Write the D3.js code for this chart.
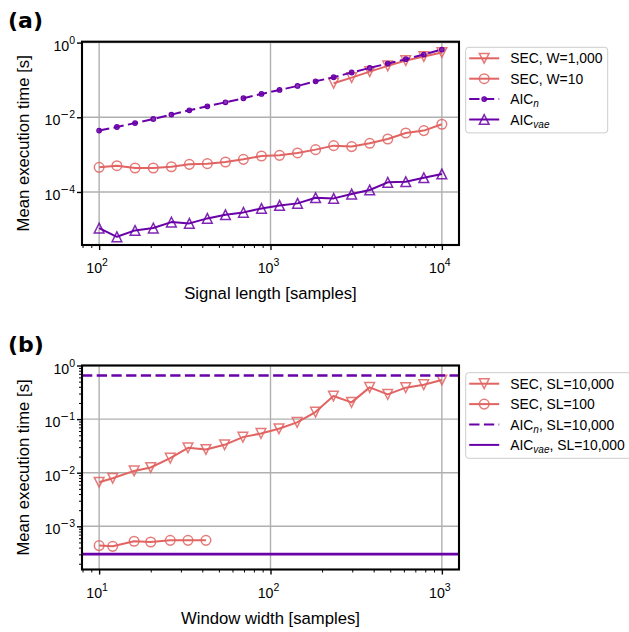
<!DOCTYPE html>
<html>
<head>
<meta charset="utf-8">
<script src="https://cdn.jsdelivr.net/npm/d3@7"></script>
<style>
  html, body { margin: 0; padding: 0; background: #fff; }
  svg { display: block; }
  text { font-family: "Liberation Sans", Arial, sans-serif; fill: #000; }
</style>
</head>
<body>
<svg id="chart" width="629" height="632"></svg>
<script>
// ---- Panel (a): execution time vs. signal length ----
const signalLengths = [100, 127, 162, 207, 264, 336, 428, 546, 695, 886, 1129, 1438, 1833, 2336, 2976, 3793, 4833, 6158, 7848, 10000];
const secW1000Lengths = [2336, 2976, 3793, 4833, 6158, 7848, 10000];
const secW1000 = [0.0817, 0.1156, 0.1675, 0.2377, 0.330, 0.423, 0.542];
const secW10 = [4.57e-4, 5.06e-4, 4.38e-4, 4.38e-4, 4.75e-4, 5.49e-4, 5.73e-4, 6.35e-4, 7.48e-4, 9.19e-4,
                9.57e-4, 1.11e-3, 1.36e-3, 1.74e-3, 1.64e-3, 2.01e-3, 2.62e-3, 3.80e-3, 4.40e-3, 6.49e-3];
const aicN = [4.4e-3, 5.5e-3, 7.0e-3, 9.0e-3, 0.0118, 0.0154, 0.0197, 0.0252, 0.0323, 0.0422,
              0.054, 0.069, 0.092, 0.118, 0.158, 0.210, 0.275, 0.359, 0.479, 0.652];
const aicVae = [1.08e-5, 6.3e-6, 9.35e-6, 1.08e-5, 1.56e-5, 1.44e-5, 1.96e-5, 2.46e-5, 2.84e-5, 3.63e-5,
                4.37e-5, 4.95e-5, 7.01e-5, 6.73e-5, 8.8e-5, 1.13e-4, 1.81e-4, 1.88e-4, 2.41e-4, 3.03e-4];
const xTicksA = [100, 1000, 10000];
const xTickExpA = [2, 3, 4];
const yTicksA = [1, 1e-2, 1e-4];
const yTickExpA = [0, -2, -4];

// ---- Panel (b): execution time vs. window width ----
const windowWidths = [10, 12, 16, 20, 26, 33, 42, 54, 69, 88, 112, 143, 183, 233, 297, 379, 483, 615, 784, 1000];
const secSL10000 = [6.64e-3, 7.88e-3, 0.0108, 0.0125, 0.0187, 0.0291, 0.0271, 0.0331, 0.0461, 0.0540,
                    0.0659, 0.0867, 0.135, 0.269, 0.205, 0.391, 0.289, 0.386, 0.438, 0.536];
const secSL100Widths = [10, 12, 16, 20, 26, 33, 42];
const secSL100 = [4.36e-4, 4.23e-4, 5.25e-4, 5.10e-4, 5.47e-4, 5.47e-4, 5.47e-4];
const aicNSL10000 = 0.652;
const aicVaeSL10000 = 3.03e-4;
const xTicksB = [10, 100, 1000];
const xTickExpB = [1, 2, 3];
const yTicksB = [1, 0.1, 0.01, 0.001];
const yTickExpB = [0, -1, -2, -3];

const SEC_COLOR = "#e16462";
const AIC_COLOR = "#6a00a8";
const DASH = "10.3,4.4";

const svg = d3.select("#chart");

// "10" followed by a raised exponent; the minus uses the wider math-style glyph
function supLabel(sel, exp) {
  sel.append("tspan").text("10");
  const sup = sel.append("tspan").attr("dy", -7).style("font-size", "10.5px");
  if (exp < 0) {
    sup.append("tspan").style("font-family", "'DejaVu Sans'").text("\u2212");
    sel.append("tspan").style("font-size", "10.5px").text(String(-exp));
  } else {
    sup.text(String(exp));
  }
}

function makePanel(opt) {
  const g = svg.append("g");
  const x = d3.scaleLog().domain(opt.xDomain).range([opt.left, opt.right]);
  const y = d3.scaleLog().domain(opt.yDomain).range([opt.bottom, opt.top]);
  const clipId = "clip-" + opt.id;
  svg.append("clipPath").attr("id", clipId).append("rect")
     .attr("x", opt.left).attr("y", opt.top)
     .attr("width", opt.right - opt.left).attr("height", opt.bottom - opt.top);

  // grid (major only)
  const grid = g.append("g");
  grid.selectAll("line.gx").data(opt.xTicks).join("line")
    .attr("x1", d => x(d)).attr("x2", d => x(d))
    .attr("y1", opt.top).attr("y2", opt.bottom)
    .attr("stroke", "#b0b0b0").attr("stroke-width", 1.4);
  grid.selectAll("line.gy").data(opt.yTicks).join("line")
    .attr("y1", d => y(d)).attr("y2", d => y(d))
    .attr("x1", opt.left).attr("x2", opt.right)
    .attr("stroke", "#b0b0b0").attr("stroke-width", 1.4);

  // axes: major + minor tick marks
  const isMajor = (v, list) => list.some(t => Math.abs(Math.log10(v) - Math.log10(t)) < 1e-9);
  const xMinor = x.ticks().filter(v => !isMajor(v, opt.xTicks));
  g.append("g").attr("transform", `translate(0,${opt.bottom})`)
    .call(d3.axisBottom(x).tickValues(xMinor).tickSize(3).tickFormat(""))
    .call(a => a.select(".domain").remove())
    .call(a => a.selectAll("line").attr("stroke-width", 1));
  g.append("g").attr("transform", `translate(0,${opt.bottom})`)
    .call(d3.axisBottom(x).tickValues(opt.xTicks).tickSize(5).tickFormat(""))
    .call(a => a.select(".domain").remove())
    .call(a => a.selectAll("line").attr("stroke-width", 1.4));
  if (opt.yMinor) {
    const yMinor = y.ticks().filter(v => !isMajor(v, opt.yTicks));
    g.append("g").attr("transform", `translate(${opt.left},0)`)
      .call(d3.axisLeft(y).tickValues(yMinor).tickSize(3).tickFormat(""))
      .call(a => a.select(".domain").remove())
      .call(a => a.selectAll("line").attr("stroke-width", 1));
  }
  g.append("g").attr("transform", `translate(${opt.left},0)`)
    .call(d3.axisLeft(y).tickValues(opt.yTicks).tickSize(5).tickFormat(""))
    .call(a => a.select(".domain").remove())
    .call(a => a.selectAll("line").attr("stroke-width", 1.4));

  // tick labels with superscript exponents
  opt.xTicks.forEach((v, i) => {
    const t = g.append("text").attr("x", x(v) - 2).attr("y", opt.bottom + 28)
      .attr("text-anchor", "middle").style("font-size", "14.2px");
    supLabel(t, opt.xExp[i]);
  });
  opt.yTicks.forEach((v, i) => {
    const t = g.append("text").attr("x", opt.left - 7).attr("y", y(v) + 8)
      .attr("text-anchor", "end").style("font-size", "14.2px");
    supLabel(t, opt.yExp[i]);
  });

  // axis titles
  g.append("text").attr("x", (opt.left + opt.right) / 2).attr("y", opt.bottom + 54)
    .attr("text-anchor", "middle").style("font-size", "16.7px").text(opt.xTitle);
  const ym = (opt.top + opt.bottom) / 2;
  g.append("text").attr("transform", `translate(29,${ym}) rotate(-90)`)
    .attr("text-anchor", "middle").style("font-size", "16.7px").text("Mean execution time [s]");

  // panel letter
  svg.append("text").attr("x", 8).attr("y", opt.top - 14)
    .style("font-family", "'DejaVu Sans', sans-serif").style("font-weight", "bold")
    .style("font-size", "22px").text(opt.letter);

  const plot = g.append("g").attr("clip-path", `url(#${clipId})`);
  return { x, y, plot, g, opt };
}

function drawSeries(p, xs, ys, style) {
  const pts = xs.map((v, i) => [p.x(v), p.y(ys[i])]);
  p.plot.append("path").attr("d", d3.line()(pts))
    .attr("fill", "none").attr("stroke", style.color).attr("stroke-width", 2)
    .attr("stroke-dasharray", style.dash || null).attr("stroke-linejoin", "round");
  drawMarkers(p.plot, pts, style);
}

function markerPath(kind, s) {
  const h = s / 2;
  if (kind === "tridown") return `M0,${h}L${-h},${-h}L${h},${-h}Z`;
  if (kind === "triup") return `M0,${-h}L${-h},${h}L${h},${h}Z`;
  return null;
}

function drawMarkers(parent, pts, style) {
  if (!style.marker) return;
  pts.forEach(([px, py]) => {
    if (style.marker === "circle") {
      parent.append("circle").attr("cx", px).attr("cy", py).attr("r", 4.8)
        .attr("fill", "none").attr("stroke", style.color).attr("stroke-opacity", 0.85).attr("stroke-width", 1.5);
    } else if (style.marker === "dot") {
      parent.append("circle").attr("cx", px).attr("cy", py).attr("r", 2.3)
        .attr("fill", style.color).attr("fill-opacity", 0.8).attr("stroke", style.color).attr("stroke-width", 1.2);
    } else {
      parent.append("path").attr("transform", `translate(${px},${py})`)
        .attr("d", markerPath(style.marker, 9.7))
        .attr("fill", "none").attr("stroke", style.color).attr("stroke-opacity", 0.85).attr("stroke-width", 1.5);
    }
  });
}

function drawLegend(x0, y0, w, rows) {
  const lg = svg.append("g");
  const rowH = 20.4;
  lg.append("rect").attr("x", x0).attr("y", y0).attr("width", w)
    .attr("height", rows.length * rowH + 4).attr("rx", 3)
    .attr("fill", "#fff").attr("fill-opacity", 0.8).attr("stroke", "#cccccc").attr("stroke-width", 1);
  rows.forEach((r, i) => {
    const cy = y0 + 11 + i * rowH;
    lg.append("line").attr("x1", x0 + 3.5).attr("x2", x0 + 33.5).attr("y1", cy).attr("y2", cy)
      .attr("stroke", r.style.color).attr("stroke-width", 2).attr("stroke-dasharray", r.style.dash || null);
    drawMarkers(lg, [[x0 + 18.5, cy]], r.style);
    const t = lg.append("text").attr("x", x0 + 44.5).attr("y", cy + 5).style("font-size", "13.9px");
    r.label.forEach(part => {
      const sp = t.append("tspan").text(part.t);
      if (part.sub) sp.style("font-size", "10px").style("font-style", "italic").attr("dy", 3);
      if (part.after) sp.attr("dy", -3);
    });
  });
}

// ---- build panel (a) ----
const pa = makePanel({
  id: "a", letter: "(a)", left: 82, right: 459, top: 41.7, bottom: 245,
  xDomain: [Math.pow(10, 1.9), Math.pow(10, 4.1)], yDomain: [Math.pow(10, -5.42), Math.pow(10, 0.024)],
  xTicks: xTicksA, xExp: xTickExpA, yTicks: yTicksA, yExp: yTickExpA, yMinor: false,
  xTitle: "Signal length [samples]"
});
const stW1000 = { color: SEC_COLOR, marker: "tridown" };
const stW10 = { color: SEC_COLOR, marker: "circle" };
const stAicN = { color: AIC_COLOR, marker: "dot", dash: DASH };
const stAicVae = { color: AIC_COLOR, marker: "triup" };
drawSeries(pa, secW1000Lengths, secW1000, stW1000);
drawSeries(pa, signalLengths, secW10, stW10);
drawSeries(pa, signalLengths, aicN, stAicN);
drawSeries(pa, signalLengths, aicVae, stAicVae);
svg.append("rect").attr("x", 82).attr("y", 41.7).attr("width", 377).attr("height", 203.3)
  .attr("fill", "none").attr("stroke", "#000").attr("stroke-width", 2.1);

drawLegend(465.7, 47.3, 142, [
  { style: stW1000, label: [{ t: "SEC, W=1,000" }] },
  { style: stW10, label: [{ t: "SEC, W=10" }] },
  { style: stAicN, label: [{ t: "AIC" }, { t: "n", sub: true }] },
  { style: stAicVae, label: [{ t: "AIC" }, { t: "vae", sub: true }] }
]);

// ---- build panel (b) ----
const pb = makePanel({
  id: "b", letter: "(b)", left: 82, right: 459, top: 365.5, bottom: 569.5,
  xDomain: [Math.pow(10, 0.9), Math.pow(10, 3.1)], yDomain: [Math.pow(10, -3.806), 1],
  xTicks: xTicksB, xExp: xTickExpB, yTicks: yTicksB, yExp: yTickExpB, yMinor: true,
  xTitle: "Window width [samples]"
});
const stSL10000 = { color: SEC_COLOR, marker: "tridown" };
const stSL100 = { color: SEC_COLOR, marker: "circle" };
const stAicNH = { color: AIC_COLOR, dash: DASH };
const stAicVaeH = { color: AIC_COLOR };
drawSeries(pb, windowWidths, secSL10000, stSL10000);
drawSeries(pb, secSL100Widths, secSL100, stSL100);
[[aicNSL10000, stAicNH], [aicVaeSL10000, stAicVaeH]].forEach(([v, st]) => {
  pb.plot.append("line").attr("x1", 82).attr("x2", 459).attr("y1", pb.y(v)).attr("y2", pb.y(v))
    .attr("stroke", st.color).attr("stroke-width", 2.6).attr("stroke-dasharray", st.dash || null);
});
svg.append("rect").attr("x", 82).attr("y", 365.5).attr("width", 377).attr("height", 204)
  .attr("fill", "none").attr("stroke", "#000").attr("stroke-width", 2.1);

drawLegend(465.7, 372.7, 190, [
  { style: stSL10000, label: [{ t: "SEC, SL=10,000" }] },
  { style: stSL100, label: [{ t: "SEC, SL=100" }] },
  { style: stAicNH, label: [{ t: "AIC" }, { t: "n", sub: true }, { t: ", SL=10,000", after: true }] },
  { style: stAicVaeH, label: [{ t: "AIC" }, { t: "vae", sub: true }, { t: ", SL=10,000", after: true }] }
]);
</script>
</body>
</html>
